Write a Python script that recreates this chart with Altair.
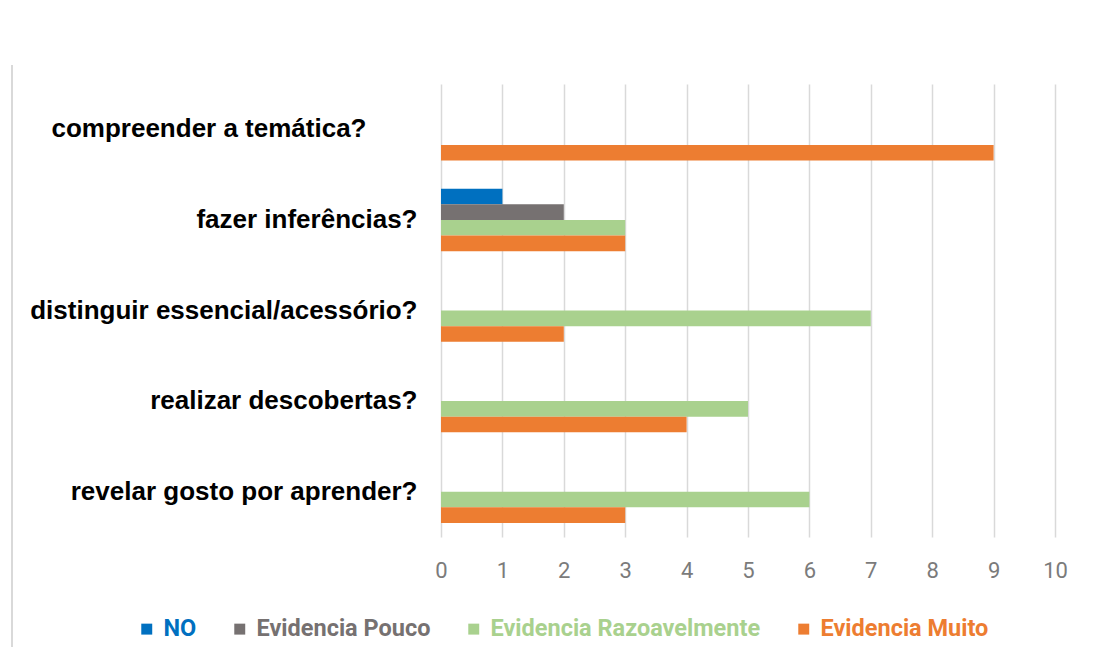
import altair as alt
import pandas as pd

categories = [
    "compreender a temática?",
    "fazer inferências?",
    "distinguir essencial/acessório?",
    "realizar descobertas?",
    "revelar gosto por aprender?",
]
series = ["NO", "Evidencia Pouco", "Evidencia Razoavelmente", "Evidencia Muito"]
colors = ["#0070C0", "#767171", "#A9D18E", "#ED7D31"]
no_vals = [0, 1, 0, 0, 0]
pouco_vals = [0, 2, 0, 0, 0]
razo_vals = [0, 3, 7, 5, 6]
muito_vals = [9, 3, 2, 4, 3]
x_ticks = list(range(0, 11))

rows = []
for s, vals in zip(series, [no_vals, pouco_vals, razo_vals, muito_vals]):
    for c, v in zip(categories, vals):
        rows.append({"categoria": c, "serie": s, "valor": v})
df = pd.DataFrame(rows)

label_color_expr = " : ".join(
    f"datum.label == '{s}' ? '{c}'" for s, c in zip(series, colors)
) + " : '#000000'"

bars = (
    alt.Chart(df)
    .transform_filter("datum.valor > 0")
    .mark_bar()
    .encode(
        y=alt.Y(
            "categoria:N",
            sort=categories,
            scale=alt.Scale(paddingInner=0.31, paddingOuter=0.155),
            axis=alt.Axis(
                title=None,
                labelFont="Liberation Sans",
                labelFontSize=26,
                labelFontWeight="bold",
                labelColor="#000000",
                labelPadding={
                    "condition": {
                        "test": "datum.value === 'compreender a temática?'",
                        "value": 75,
                    },
                    "value": 24,
                },
                ticks=False,
                domain=False,
                grid=False,
                labelLimit=0,
            ),
        ),
        yOffset=alt.YOffset(
            "serie:N",
            sort=series,
            scale=alt.Scale(domain=series, paddingInner=0, paddingOuter=0),
        ),
        x=alt.X(
            "valor:Q",
            scale=alt.Scale(domain=[0, 10], nice=False),
            axis=alt.Axis(
                values=x_ticks,
                title=None,
                grid=True,
                gridColor="#d9d9d9",
                gridWidth=1.5,
                domain=False,
                ticks=False,
                labelFlush=False,
                labelFont="Roboto",
                labelFontSize=22,
                labelColor="#7b7b7b",
                labelPadding=23,
            ),
        ),
        color=alt.Color(
            "serie:N",
            sort=series,
            scale=alt.Scale(domain=series, range=colors),
            legend=alt.Legend(
                title=None,
                orient="none",
                legendX=-306,
                legendY=533,
                direction="horizontal",
                symbolType="square",
                symbolSize=120,
                symbolStrokeWidth=0,
                labelFont="Roboto",
                labelFontSize=23.5,
                labelFontWeight="bold",
                labelColor=alt.ExprRef(expr=label_color_expr),
                columnPadding=31,
                labelOffset=5,
                labelLimit=0,
            ),
        ),
    )
)

border = (
    alt.Chart(pd.DataFrame({"a": [0]}))
    .mark_rule(color="#d9d9d9", strokeWidth=2)
    .encode(x=alt.value(-429), y=alt.value(-19), y2=alt.value(590))
)

chart = (
    alt.layer(border, bars)
    .properties(
        width=614,
        height=453,
        autosize=alt.AutoSizeParams(type="none"),
        padding={"left": 433, "top": 76, "right": 30, "bottom": 110},
        background="white",
    )
    .configure_view(stroke=None)
)

chart.save("out.html", embed_options={"renderer": "svg", "actions": False})
